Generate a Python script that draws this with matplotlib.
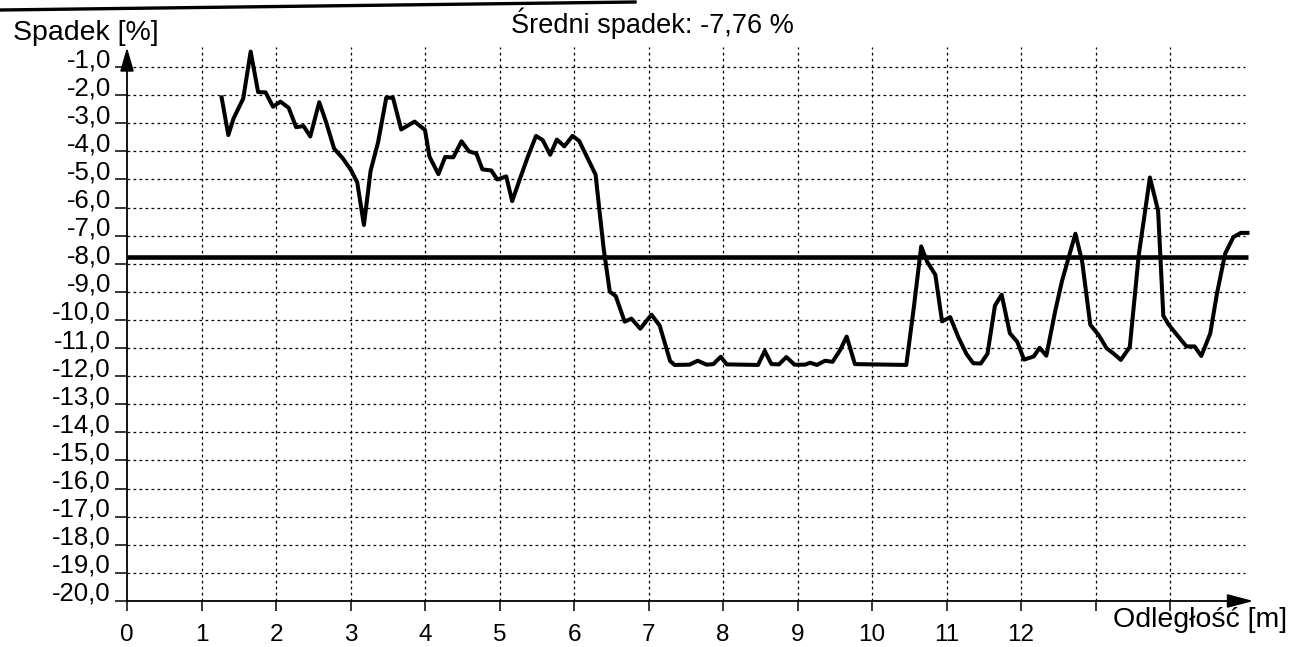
import matplotlib
matplotlib.use("Agg")
import matplotlib.pyplot as plt
from matplotlib.lines import Line2D

plt.rcParams['font.family'] = ['Liberation Sans', 'DejaVu Sans']

# ---- data ----
distance_m = [
    1.27, 1.36, 1.43, 1.56, 1.66, 1.76, 1.86, 1.96, 2.06, 2.17, 2.27, 2.37, 2.46, 2.58,
    2.67, 2.78, 2.90, 3.01, 3.09, 3.18, 3.27, 3.37, 3.48, 3.57, 3.68, 3.86, 4.00, 4.06,
    4.18, 4.27, 4.38, 4.49, 4.59, 4.69, 4.77, 4.89, 4.97, 5.09, 5.17, 5.27, 5.38, 5.49,
    5.58, 5.68, 5.77, 5.87, 5.98, 6.07, 6.18, 6.29, 6.34, 6.40, 6.48, 6.56, 6.68, 6.77,
    6.89, 7.04, 7.15, 7.29, 7.35, 7.55, 7.66, 7.78, 7.87, 7.97, 8.05, 8.47, 8.56, 8.65,
    8.75, 8.85, 8.96, 9.10, 9.17, 9.26, 9.37, 9.47, 9.57, 9.66, 9.77, 10.46, 10.56, 10.66,
    10.74, 10.85, 10.94, 11.05, 11.16, 11.27, 11.36, 11.46, 11.55, 11.65, 11.74, 11.85,
    11.95, 12.04, 12.17, 12.25, 12.34, 12.46, 12.55, 12.73, 12.82, 12.93, 13.04, 13.15,
    13.24, 13.34, 13.46, 13.58, 13.73, 13.84, 13.91, 13.98, 14.09, 14.22, 14.33, 14.42,
    14.54, 14.63, 14.74, 14.85, 14.95, 15.04,
]
spadek_pct = [
    -2.08, -3.42, -2.83, -2.12, -0.45, -1.89, -1.90, -2.41, -2.23, -2.45, -3.14, -3.10, -3.47, -2.25,
    -2.94, -3.90, -4.26, -4.68, -5.10, -6.62, -4.69, -3.68, -2.09, -2.09, -3.22, -2.94, -3.24, -4.19,
    -4.81, -4.20, -4.21, -3.64, -4.00, -4.08, -4.64, -4.68, -5.00, -4.89, -5.77, -5.01, -4.19, -3.45,
    -3.60, -4.12, -3.58, -3.82, -3.45, -3.63, -4.23, -4.83, -6.07, -7.50, -8.99, -9.15, -10.06, -9.95,
    -10.31, -9.81, -10.20, -11.46, -11.60, -11.59, -11.45, -11.59, -11.57, -11.31, -11.58, -11.60, -11.10, -11.57,
    -11.58, -11.32, -11.59, -11.59, -11.52, -11.60, -11.45, -11.49, -11.08, -10.59, -11.57, -11.60, -9.58, -7.38,
    -7.93, -8.39, -10.05, -9.90, -10.62, -11.22, -11.54, -11.55, -11.20, -9.49, -9.10, -10.47,
    -10.78, -11.41, -11.30, -10.99, -11.27, -9.67, -8.61, -6.93, -7.91, -10.17, -10.53, -11.01,
    -11.19, -11.42, -10.96, -7.70, -4.93, -6.11, -9.85, -10.16, -10.52, -10.94, -10.94, -11.28,
    -10.48, -9.06, -7.64, -7.05, -6.90, -6.90,
]
mean_slope = -7.76
x_ticks = list(range(0, 15))
x_tick_labels = [str(v) if v <= 12 else '' for v in x_ticks]
y_ticks = [-float(v) for v in range(1, 21)]
y_tick_labels = [f"{v:.1f}".replace('.', ',') for v in y_ticks]

title_text = "Średni spadek: -7,76 %"
ylabel_text = "Spadek [%]"
xlabel_text = "Odległość [m]"

# ---- figure ----
W, H = 1293, 647
fig = plt.figure(figsize=(W / 100, H / 100), dpi=100)
fig.patch.set_facecolor('white')
ax = fig.add_axes([127 / W, 46 / H, 1128.7 / W, 553.6 / H])
ax.set_xlim(0, 15.15)
ax.set_ylim(-20, -0.3)
for s in ax.spines.values():
    s.set_visible(False)

grid_style = dict(color='black', lw=0.9, linestyle=(0, (2.2, 2.6)), zorder=1)
ax.hlines(y_ticks[:-1], 0, 15.0, **grid_style)
ax.vlines(x_ticks[1:], -20, -0.3, **grid_style)

# axes with arrows
ax.annotate('', xy=(0, -0.3), xytext=(0, -20), xycoords='data',
            arrowprops=dict(arrowstyle='-|>,head_length=1.45,head_width=0.42',
                            color='black', lw=1.3, mutation_scale=10, shrinkA=0, shrinkB=0),
            annotation_clip=False, zorder=4)
ax.annotate('', xy=(15.12, -20), xytext=(0, -20), xycoords='data',
            arrowprops=dict(arrowstyle='-|>,head_length=1.6,head_width=0.42',
                            color='black', lw=1.3, mutation_scale=10, shrinkA=0, shrinkB=0),
            annotation_clip=False, zorder=4)

# mean line and profile
ax.hlines(mean_slope, 0, 15.05, color='black', lw=3.3, zorder=3)
ax.plot(distance_m, spadek_pct, color='black', lw=2.9, solid_joinstyle='round',
        zorder=5, clip_on=False)

ax.set_xticks(x_ticks)
ax.set_xticklabels(x_tick_labels)
ax.set_yticks(y_ticks)
ax.set_yticklabels(y_tick_labels)
ax.tick_params(axis='x', direction='out', length=7.5, width=1.1, pad=9, labelsize=17.5)
ax.tick_params(axis='y', direction='out', length=8.6, width=1.1, pad=3, labelsize=18.5)
for lbl in ax.get_yticklabels():
    lbl.set_va('baseline')

fig.text(13 / W, 1 - 40 / H, ylabel_text, ha='left', va='baseline', fontsize=20.5)
fig.text(652 / W, 1 - 33 / H, title_text, ha='center', va='baseline', fontsize=19.5)
fig.text(1287 / W, 1 - 627 / H, xlabel_text, ha='right', va='baseline', fontsize=20.5)

# dark border stroke at the top of the scan
fig.add_artist(Line2D([0, 635 / W], [1 - 10 / H, 1 - 2 / H], color='black', lw=2.4))

fig.savefig('out.png', dpi=100, facecolor='white')
